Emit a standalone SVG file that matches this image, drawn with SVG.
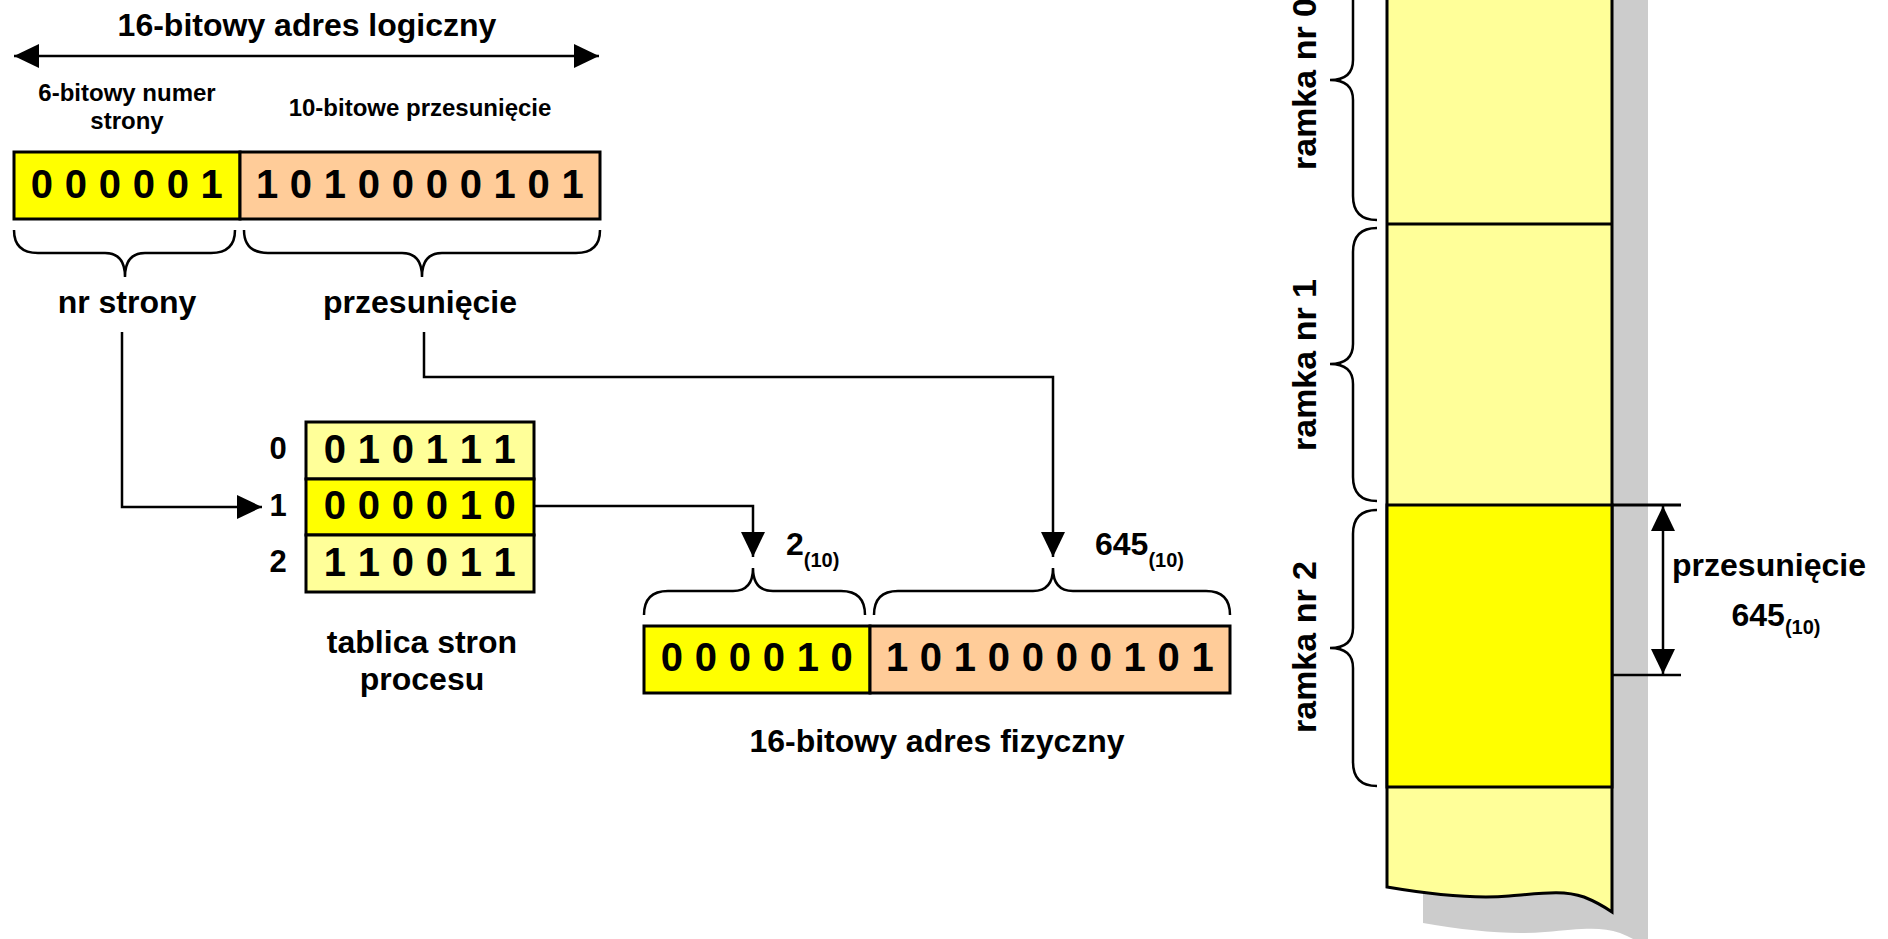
<svg xmlns="http://www.w3.org/2000/svg" width="1888" height="939" viewBox="0 0 1888 939">
<defs>
<style>
.t{font-family:"Liberation Sans",Arial,sans-serif;font-weight:bold;fill:#000}
.big{font-size:32px}
.mid{font-size:24px}
.lbl{font-size:32px}
.num{font-size:31px}
.sub{font-size:20px}
.ram{font-size:34px}
.dig{font-size:40px;letter-spacing:0.3px}
.c{text-anchor:middle}
.ln{stroke:#000;stroke-width:2.5;fill:none}
.br{stroke:#000;stroke-width:2.5;fill:none}
.box{stroke:#000;stroke-width:3}
.y{fill:#FFFF00}
.ly{fill:#FFFF99}
.pe{fill:#FFCC99}
</style>
<marker id="ah" viewBox="0 0 25 24" refX="25" refY="12" markerWidth="25" markerHeight="24" markerUnits="userSpaceOnUse" orient="auto-start-reverse"><path d="M0,0 L25,12 L0,24 z" fill="#000"/></marker>
</defs>
<rect width="1888" height="939" fill="#fff"/>

<g id="logical-address">
<text class="t big c" x="307" y="36">16-bitowy adres logiczny</text>
<text class="t mid c" x="127" y="101">6-bitowy numer</text>
<text class="t mid c" x="127" y="129">strony</text>
<text class="t mid c" x="420" y="116">10-bitowe przesunięcie</text>
<rect class="box y" x="14" y="152" width="226" height="67"/>
<rect class="box pe" x="240" y="152" width="360" height="67"/>
<text class="t dig c" x="127" y="198">0 0 0 0 0 1</text>
<text class="t dig c" x="420" y="198">1 0 1 0 0 0 0 1 0 1</text>
<path class="br" d="M14,230 Q14,253 38,253 L105,253 Q125,253 125,277 Q125,253 145,253 L211,253 Q235,253 235,230"/>
<path class="br" d="M244,230 Q244,253 268,253 L402,253 Q422,253 422,277 Q422,253 442,253 L576,253 Q600,253 600,230"/>
<text class="t lbl c" x="127" y="313">nr strony</text>
<text class="t lbl c" x="420" y="313">przesunięcie</text>
</g>

<g id="page-table">
<rect class="box ly" x="306" y="422" width="228" height="57"/>
<rect class="box y" x="306" y="479" width="228" height="56"/>
<rect class="box ly" x="306" y="535" width="228" height="57"/>
<text class="t dig c" x="420" y="463">0 1 0 1 1 1</text>
<text class="t dig c" x="420" y="519">0 0 0 0 1 0</text>
<text class="t dig c" x="420" y="576">1 1 0 0 1 1</text>
<text class="t num c" x="278" y="459">0</text>
<text class="t num c" x="278" y="516">1</text>
<text class="t num c" x="278" y="572">2</text>
<text class="t lbl c" x="422" y="653">tablica stron</text>
<text class="t lbl c" x="422" y="690">procesu</text>
</g>

<g id="physical-address">
<text class="t lbl" x="786" y="555">2<tspan class="sub" dy="12">(10)</tspan></text>
<text class="t lbl" x="1095" y="555">645<tspan class="sub" dy="12">(10)</tspan></text>
<path class="br" d="M644,615 Q644,591 668,591 L733,591 Q753,591 753,568 Q753,591 773,591 L841,591 Q865,591 865,615"/>
<path class="br" d="M874,615 Q874,591 898,591 L1033,591 Q1053,591 1053,568 Q1053,591 1073,591 L1206,591 Q1230,591 1230,615"/>
<rect class="box y" x="644" y="626" width="226" height="67"/>
<rect class="box pe" x="870" y="626" width="360" height="67"/>
<text class="t dig c" x="757" y="671">0 0 0 0 1 0</text>
<text class="t dig c" x="1050" y="671">1 0 1 0 0 0 0 1 0 1</text>
<text class="t lbl c" x="937" y="752">16-bitowy adres fizyczny</text>
</g>

<g id="memory">
<path fill="#CCCCCC" d="M1423,-20 L1423,923 C1470,931 1510,935 1545,932 C1580,929 1600,926 1620,933 Q1635,939 1648,948 L1648,-20 Z"/>
<path class="ly" stroke="#000" stroke-width="3" d="M1387,-20 L1387,887 C1434,895 1474,899 1509,896 C1544,893 1564,890 1584,897 Q1599,903 1612,912 L1612,-20 Z"/>
<rect class="box y" x="1387" y="505" width="225" height="282"/>
<line class="box" x1="1387" y1="224" x2="1612" y2="224"/>
<line class="box" x1="1612" y1="505" x2="1681" y2="505"/>
<line class="ln" x1="1612" y1="675" x2="1681" y2="675"/>
<path class="ln" d="M1663,506 L1663,674" marker-start="url(#ah)" marker-end="url(#ah)"/>
<text class="t lbl c" x="1769" y="576">przesunięcie</text>
<text class="t lbl c" x="1776" y="626">645<tspan class="sub" dy="8">(10)</tspan></text>
</g>

<g id="frames">
<path class="br" d="M1377,-62 Q1353,-62 1353,-38 L1353,60 Q1353,80 1330,80 Q1353,80 1353,100 L1353,196 Q1353,220 1377,220"/>
<path class="br" d="M1377,228 Q1353,228 1353,252 L1353,344 Q1353,364 1330,364 Q1353,364 1353,384 L1353,477 Q1353,501 1377,501"/>
<path class="br" d="M1377,510 Q1353,510 1353,534 L1353,628 Q1353,648 1330,648 Q1353,648 1353,668 L1353,762 Q1353,786 1377,786"/>
<text class="t ram c" transform="translate(1316,84) rotate(-90)">ramka nr 0</text>
<text class="t ram c" transform="translate(1316,365) rotate(-90)">ramka nr 1</text>
<text class="t ram c" transform="translate(1316,647) rotate(-90)">ramka nr 2</text>
</g>

<g id="connectors">
<path class="ln" d="M14,56 L599,56" marker-start="url(#ah)" marker-end="url(#ah)"/>
<path class="ln" d="M122,332 L122,507 L262,507" marker-end="url(#ah)"/>
<path class="ln" d="M424,332 L424,377 L1053,377 L1053,557" marker-end="url(#ah)"/>
<path class="ln" d="M534,506 L753,506 L753,557" marker-end="url(#ah)"/>
</g>
</svg>
